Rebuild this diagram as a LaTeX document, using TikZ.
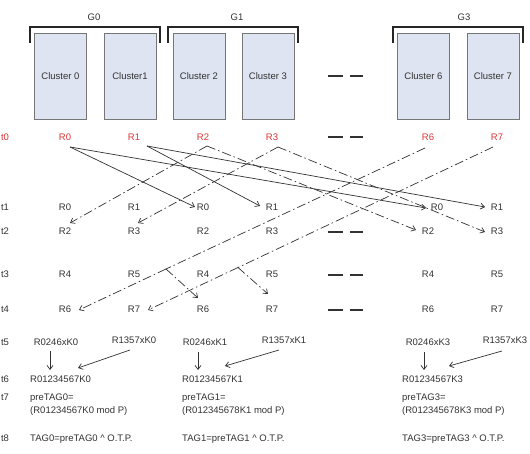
\documentclass[tikz,border=0pt]{standalone}
\usepackage{fontspec}
\setmainfont{Liberation Sans}
\usetikzlibrary{arrows.meta}
\definecolor{boxfill}{RGB}{222,228,241}
\definecolor{boxline}{RGB}{118,118,118}
\definecolor{redtxt}{RGB}{222,52,52}
\definecolor{ink}{RGB}{50,50,50}
\begin{document}
\begin{tikzpicture}[x=1pt,y=-1pt,
  lbl/.style={inner sep=0pt, text height=6.8pt, text depth=0pt, font=\fontsize{9.5}{11}\selectfont, text=ink},
  rlbl/.style={lbl, text=redtxt},
  llbl/.style={lbl, anchor=west},
  cluster/.style={draw=boxline, line width=0.9pt, fill=boxfill, minimum width=52pt, minimum height=86pt, inner sep=0pt, font=\fontsize{9.5}{11}\selectfont, text=ink},
  bracket/.style={line width=1.6pt, draw=black!85},
  gapdash/.style={draw=ink, line width=1.1pt, dash pattern=on 15pt off 7pt},
  solidarr/.style={draw=ink, line width=0.7pt, -{Straight Barb[length=4pt,width=6pt]}},
  dasharr/.style={solidarr, dash pattern=on 9pt off 3pt on 1.5pt off 3pt},
  dashln/.style={draw=ink, line width=0.7pt, dash pattern=on 9pt off 3pt on 1.5pt off 3pt}
]
\useasboundingbox (0,0) rectangle (530,454);

% clusters
\node[cluster] (c0) at (60.5,76) {Cluster 0};
\node[cluster] (c1) at (130,76) {Cluster1};
\node[cluster] (c2) at (199,76) {Cluster 2};
\node[cluster] (c3) at (268,76) {Cluster 3};
\node[cluster] (c6) at (423.5,76) {Cluster 6};
\node[cluster] (c7) at (493,76) {Cluster 7};

% group brackets and labels
\draw[bracket] (30,43) -- (30,27) -- (160,27) -- (160,43);
\draw[bracket] (168,43) -- (168,27) -- (298,27) -- (298,43);
\draw[bracket] (393,43) -- (393,27) -- (523,27) -- (523,43);
\node[lbl] (g0) at (94,17) {G0};
\node[lbl] (g1) at (237,17) {G1};
\node[lbl] (g3) at (464,17) {G3};

% gap dashes
\draw[gapdash] (328,76) -- (363,76);
\draw[gapdash] (328,137) -- (363,137);
\draw[gapdash] (328,232) -- (363,232);
\draw[gapdash] (328,275) -- (363,275);
\draw[gapdash] (328,310) -- (363,310);

% time labels
\node[rlbl] (t0) at (5,137) {t0};
\node[lbl] (t1) at (5,207) {t1};
\node[lbl] (t2) at (5,231) {t2};
\node[lbl] (t3) at (5,274) {t3};
\node[lbl] (t4) at (5,309) {t4};
\node[lbl] (t5) at (5,342) {t5};
\node[lbl] (t6) at (5,379) {t6};
\node[lbl] (t7) at (5,397) {t7};
\node[lbl] (t8) at (5,438) {t8};

% row t0
\node[rlbl] (r0a) at (65,137) {R0};
\node[rlbl] (r1a) at (134,137) {R1};
\node[rlbl] (r2a) at (203,137) {R2};
\node[rlbl] (r3a) at (272,137) {R3};
\node[rlbl] (r6a) at (428,137) {R6};
\node[rlbl] (r7a) at (497,137) {R7};
% row t1
\node[lbl] (t1c0) at (65,207) {R0};
\node[lbl] (t1c1) at (134,207) {R1};
\node[lbl] (t1c2) at (203,207) {R0};
\node[lbl] (t1c3) at (272,207) {R1};
\node[lbl] (t1c6) at (437,207) {R0};
\node[lbl] (t1c7) at (497,207) {R1};
% row t2
\node[lbl] (t2c0) at (65,231) {R2};
\node[lbl] (t2c1) at (134,231) {R3};
\node[lbl] (t2c2) at (203,231) {R2};
\node[lbl] (t2c3) at (272,231) {R3};
\node[lbl] (t2c6) at (428,231) {R2};
\node[lbl] (t2c7) at (497,231) {R3};
% row t3
\node[lbl] (t3c0) at (65,274) {R4};
\node[lbl] (t3c1) at (134,274) {R5};
\node[lbl] (t3c2) at (203,274) {R4};
\node[lbl] (t3c3) at (272,274) {R5};
\node[lbl] (t3c6) at (428,274) {R4};
\node[lbl] (t3c7) at (497,274) {R5};
% row t4
\node[lbl] (t4c0) at (65,309) {R6};
\node[lbl] (t4c1) at (134,309) {R7};
\node[lbl] (t4c2) at (203,309) {R6};
\node[lbl] (t4c3) at (272,309) {R7};
\node[lbl] (t4c6) at (428,309) {R6};
\node[lbl] (t4c7) at (497,309) {R7};

% row t5
\node[lbl] (k0a) at (56,342) {R0246xK0};
\node[lbl] (k0b) at (134,340) {R1357xK0};
\node[lbl] (k1a) at (205,342) {R0246xK1};
\node[lbl] (k1b) at (284,340) {R1357xK1};
\node[lbl] (k3a) at (428,342) {R0246xK3};
\node[lbl] (k3b) at (505,340) {R1357xK3};

% row t6
\node[llbl] (m0) at (30,379) {R01234567K0};
\node[llbl] (m1) at (182,379) {R01234567K1};
\node[llbl] (m3) at (402,379) {R01234567K3};

% row t7
\node[llbl] (p0a) at (30,397) {preTAG0=};
\node[llbl] (p0b) at (30,410) {(R01234567K0 mod P)};
\node[llbl] (p1a) at (182,397) {preTAG1=};
\node[llbl] (p1b) at (182,410) {(R012345678K1 mod P)};
\node[llbl] (p3a) at (402,397) {preTAG3=};
\node[llbl] (p3b) at (402,410) {(R012345678K3 mod P)};

% row t8
\node[llbl] (f0) at (30,438) {TAG0=preTAG0 \^{} O.T.P.};
\node[llbl] (f1) at (182,438) {TAG1=preTAG1 \^{} O.T.P.};
\node[llbl] (f3) at (402,438) {TAG3=preTAG3 \^{} O.T.P.};

% connector end points
\coordinate (s0) at (70,147);
\coordinate (s1) at (147,146);
\coordinate (e0c2) at (195,207);
\coordinate (e0c6) at (426,208);
\coordinate (e1c3) at (260,206);
\coordinate (e1c7) at (485,207);

\coordinate (p2) at (207,146);
\coordinate (b2L) at (70,223);
\coordinate (b2R) at (416,230);
\coordinate (p3) at (278,147);
\coordinate (b3L) at (138,223);
\coordinate (b3R) at (485,232);
\coordinate (p6) at (425,148);
\coordinate (j6) at (166,269);
\coordinate (b6L) at (79,310);
\coordinate (b6R) at (198,298);
\coordinate (p7) at (493,147);
\coordinate (j7) at (238,267.5);
\coordinate (b7L) at (148,310);
\coordinate (b7R) at (268,294);

% t0 -> t1 solid arrows
\draw[solidarr] (s0) -- (e0c2);
\draw[solidarr] (s0) -- (e0c6);
\draw[solidarr] (s1) -- (e1c3);
\draw[solidarr] (s1) -- (e1c7);

% dash-dot arrows
\draw[dasharr] (p2) -- (b2L);
\draw[dasharr] (p2) -- (b2R);
\draw[dasharr] (p3) -- (b3L);
\draw[dasharr] (p3) -- (b3R);
\draw[dashln] (p6) -- (j6);
\draw[dasharr] (j6) -- (b6L);
\draw[dasharr] (j6) -- (b6R);
\draw[dashln] (p7) -- (j7);
\draw[dasharr] (j7) -- (b7L);
\draw[dasharr] (j7) -- (b7R);

% t5 -> t6 arrows
\coordinate (d0s) at (50,351);  \coordinate (d0e) at (50,370);
\coordinate (g0s) at (130,350); \coordinate (g0e) at (78,368);
\coordinate (d1s) at (198,352); \coordinate (d1e) at (198,370);
\coordinate (g1s) at (279,350); \coordinate (g1e) at (225,366);
\coordinate (d3s) at (424,352); \coordinate (d3e) at (424,370);
\coordinate (g3s) at (502,351); \coordinate (g3e) at (449,366);
\draw[solidarr] (d0s) -- (d0e);
\draw[solidarr] (g0s) -- (g0e);
\draw[solidarr] (d1s) -- (d1e);
\draw[solidarr] (g1s) -- (g1e);
\draw[solidarr] (d3s) -- (d3e);
\draw[solidarr] (g3s) -- (g3e);
\end{tikzpicture}
\end{document}
